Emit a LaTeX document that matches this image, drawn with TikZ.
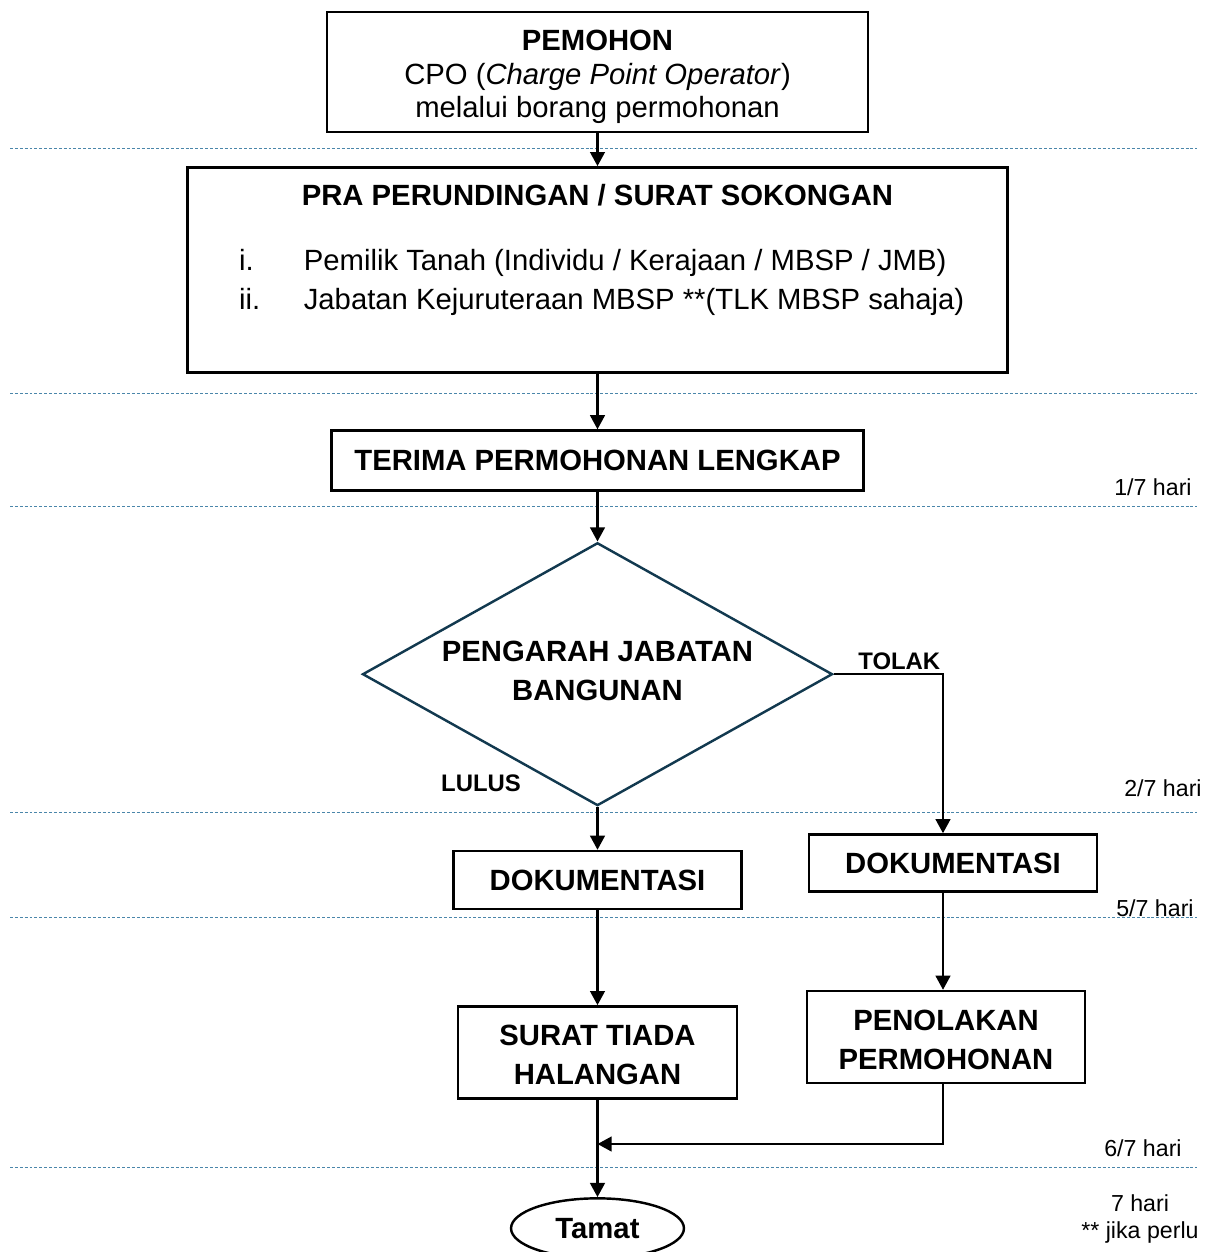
\documentclass[tikz,border=0pt]{standalone}
\usepackage{fontspec}
\setmainfont{Liberation Sans}
\usetikzlibrary{shapes.geometric, arrows.meta, positioning}
\definecolor{decisionline}{HTML}{12394F}
\definecolor{daycolor}{HTML}{4A86AA}

\begin{document}
\begin{tikzpicture}[x=0.41pt, y=-0.41pt,
    box/.style={draw, line width=1pt, align=center, inner sep=2pt, font=\fontsize{12}{16}\selectfont\bfseries},
    decision/.style={diamond, draw=decisionline, line width=1pt, aspect=1.79, inner sep=0pt, minimum width=192.7pt, minimum height=107.8pt, align=center, font=\fontsize{12}{15.6}\selectfont\bfseries},
    arr/.style={line width=1pt, -{Triangle[length=5.8pt, width=6pt]}},
    dayline/.style={daycolor, line width=0.4pt, dash pattern=on 1.2pt off 0.8pt},
    hari/.style={font=\fontsize{9.5}{10.7}\selectfont, align=center, inner sep=0pt},
    lbl/.style={font=\fontsize{9.8}{11}\selectfont\bfseries, inner sep=1.4pt}]
    \useasboundingbox (0,0) rectangle (1212,1252);

    % garis pemisah hari
    \foreach \yy in {148,393,506,812,917,1167}
      \draw[dayline] (10,\yy) -- (1197,\yy);

    \node[box, font=\fontsize{12}{13.7}\selectfont, minimum width=221.8pt, minimum height=49.2pt] (pemohon) at (597.5,72)
      {\rule{0pt}{12.5pt}\textbf{PEMOHON}\\CPO (\textit{Charge Point Operator})\\melalui borang permohonan};
    \node[box, minimum width=336.2pt, minimum height=84.1pt, below=13.5pt of pemohon] (pra) {};
    \node[anchor=base, font=\fontsize{12}{16}\selectfont\bfseries] (pratitle) at ([yshift=-16pt]pra.north)
      {PRA PERUNDINGAN / SURAT SOKONGAN};
    \node[anchor=base west, inner sep=0pt, font=\fontsize{12}{16}\selectfont] (pralist) at ([xshift=21.5pt, yshift=-42.6pt]pra.north west)
      {\begin{tabular}[t]{@{}p{26.5pt}@{}l@{}}
        i. & Pemilik Tanah (Individu / Kerajaan / MBSP / JMB)\\
        ii. & Jabatan Kejuruteraan MBSP **(TLK MBSP sahaja)
      \end{tabular}};

    \node[box, minimum width=218.1pt, minimum height=24.6pt, below=22.8pt of pra] (terima) {TERIMA PERMOHONAN LENGKAP};
    \node[decision, below=20.4pt of terima] (pengarah) {PENGARAH JABATAN\\BANGUNAN\rule[-2.8pt]{0pt}{1pt}};
    \node[box, minimum width=118.1pt, minimum height=23.8pt, below=17.6pt of pengarah] (dokLulus) {DOKUMENTASI};
    \node[box, minimum width=114.4pt, minimum height=37.7pt, below=38.9pt of dokLulus] (surat) {\rule{0pt}{10.6pt}SURAT TIADA\\HALANGAN};
    \node[draw, ellipse, line width=1pt, minimum width=70.9pt, minimum height=24.6pt, inner sep=0pt,
      font=\fontsize{12}{14}\selectfont\bfseries, below=40pt of surat] (tamat) {Tamat};

    \node[box, minimum width=118.1pt, minimum height=23.4pt] (dokTolak) at (953,863) {DOKUMENTASI};
    \node[box, minimum width=114pt, minimum height=37.7pt] (penolakan) at (946,1037) {\rule{0pt}{10.6pt}PENOLAKAN\\PERMOHONAN};

    \node[lbl] (lulus) at (481,783) {LULUS};

    \node[hari] (hari1) at (1153,487) {1/7 hari};
    \node[hari] (hari2) at (1163,788) {2/7 hari};
    \node[hari] (hari5) at (1155,908) {5/7 hari};
    \node[hari] (hari6) at (1143,1148) {6/7 hari};
    \node[hari] (hari7) at (1140,1219) {7 hari\\** jika perlu};

    \coordinate (tolakX) at (943,0);
    \coordinate (gabung) at (943,1144);

    \draw[arr] (pemohon) -- (pra);
    \draw[arr] (pra) -- (terima);
    \draw[arr] (terima) -- (pengarah);
    \draw[arr] (pengarah) -- (dokLulus);
    \draw[arr] (dokLulus) -- (surat);
    \draw[arr] (surat) -- (tamat);
    \draw[arr] (pengarah.east) -- node[lbl, pos=0.6, above] (tolak) {TOLAK} (pengarah.east -| tolakX)
      -- (dokTolak.north -| tolakX);
    \draw[arr] (dokTolak.south -| tolakX) -- (penolakan.north -| tolakX);
    \draw[arr] (penolakan.south -| tolakX) -- (gabung) -- (gabung -| surat.south);
  \end{tikzpicture}
\end{document}
